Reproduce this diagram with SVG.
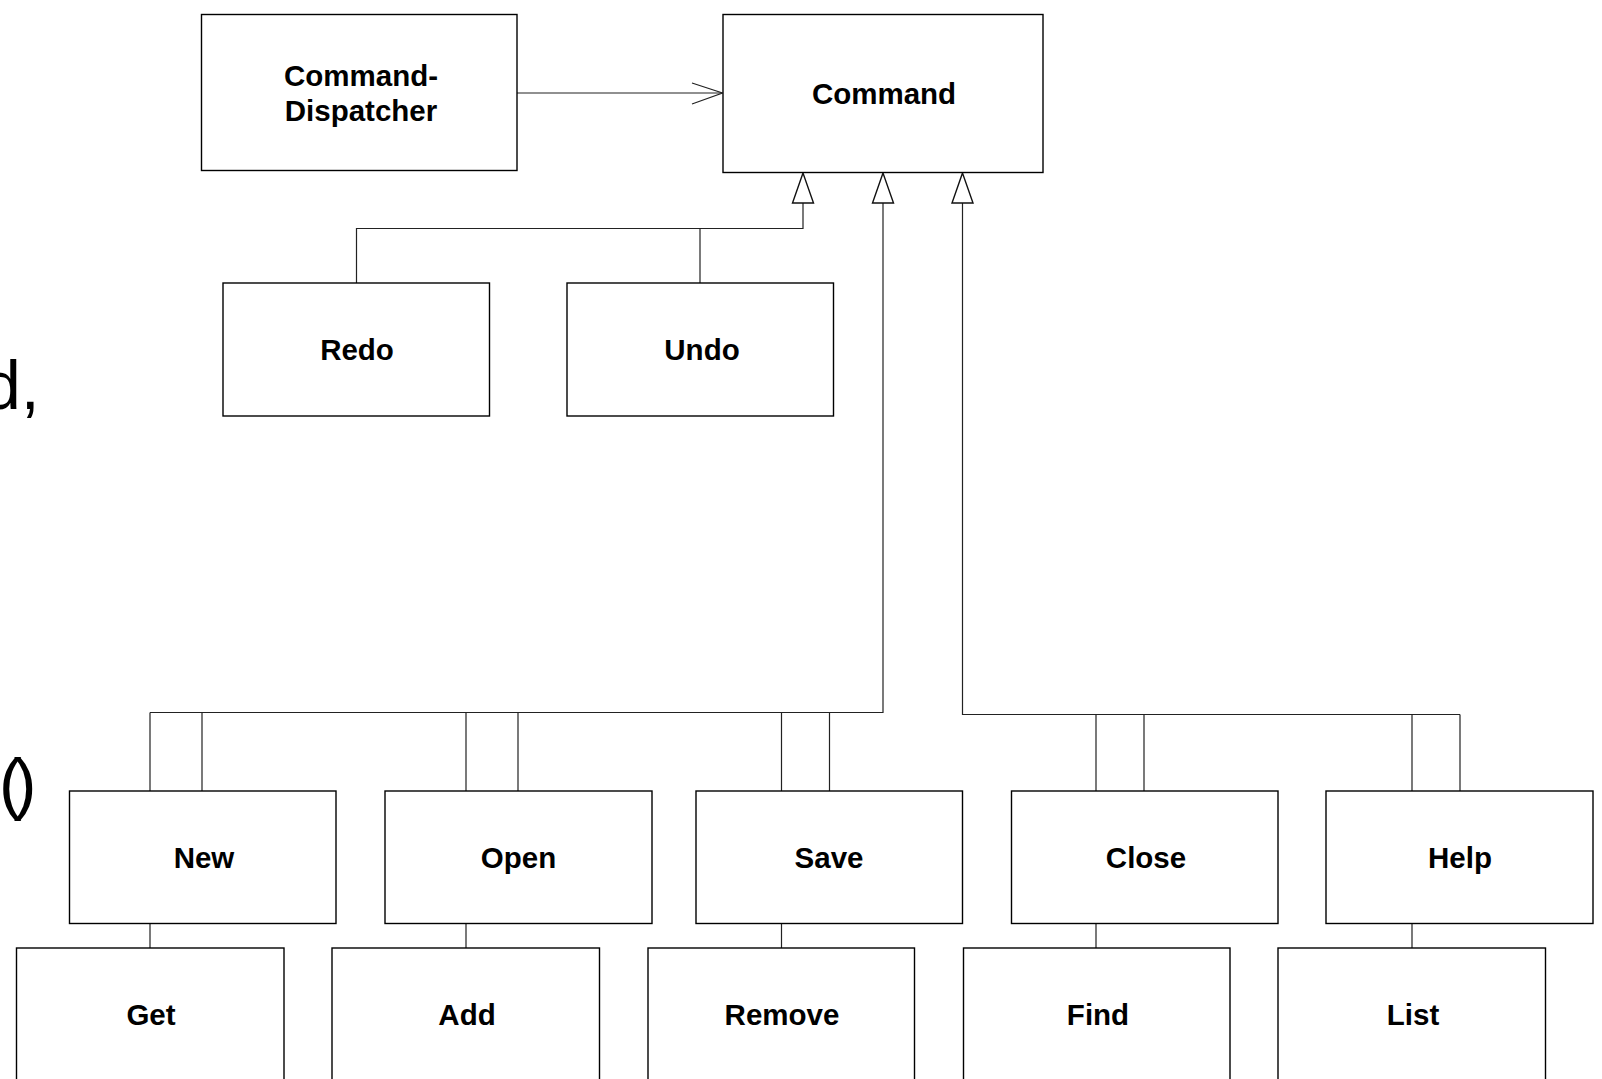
<svg xmlns="http://www.w3.org/2000/svg" width="1602" height="1079" viewBox="0 0 1602 1079">
<style>
.box{fill:#fff;stroke:#000;stroke-width:1.4}
.lbl{font-family:"Liberation Sans",Arial,sans-serif;font-weight:bold;font-size:29.5px;fill:#000;text-anchor:middle}
.bg{font-family:"Liberation Sans",Arial,sans-serif;font-size:68px;fill:#000}
.con{fill:none;stroke:#222;stroke-width:1.2}
.tri{fill:#fff;stroke:#111;stroke-width:1.4}
</style>
<rect width="1602" height="1079" fill="#fff"/>
<text class="bg" x="-17" y="409">d,</text>
<text class="bg" x="-1" y="807" letter-spacing="-8">()</text>
<g id="connectors">
<line class="con" x1="517" y1="93" x2="722" y2="93"/>
<polyline class="con" points="692,83 722.5,93 692,104"/>
<polyline class="con" points="356.5,283 356.5,228.5 803,228.5 803,203"/>
<line class="con" x1="700" y1="228.5" x2="700" y2="283"/>
<polygon class="tri" points="803,173 792.5,203 813.5,203"/>
<polyline class="con" points="883,203 883,712.5 150,712.5"/>
<polygon class="tri" points="883,173 872.5,203 893.5,203"/>
<polyline class="con" points="962.5,203 962.5,714.5 1460,714.5"/>
<polygon class="tri" points="962.5,173 952,203 973,203"/>
<path class="con" d="M150,712.5V791M202,712.5V791M466,712.5V791M518,712.5V791M781.5,712.5V791M829.5,712.5V791M1096,714.5V791M1144,714.5V791M1412,714.5V791M1460,714.5V791"/>
<path class="con" d="M150,923.5V948M466,923.5V948M781.5,923.5V948M1096,923.5V948M1412,923.5V948"/>
</g>
<g id="dispatcher"><rect class="box" x="201.5" y="14.5" width="315.5" height="156"/><text class="lbl" x="361" y="85.5">Command-</text><text class="lbl" x="361" y="121">Dispatcher</text></g>
<g id="command"><rect class="box" x="723" y="14.5" width="320" height="158"/><text class="lbl" x="884" y="103.5">Command</text></g>
<g id="redo"><rect class="box" x="223" y="283" width="266.5" height="133"/><text class="lbl" x="357" y="360">Redo</text></g>
<g id="undo"><rect class="box" x="567" y="283" width="266.5" height="133"/><text class="lbl" x="702" y="360">Undo</text></g>
<g id="new"><rect class="box" x="69.5" y="791" width="266.5" height="132.5"/><text class="lbl" x="204" y="868">New</text></g>
<g id="open"><rect class="box" x="385" y="791" width="267" height="132.5"/><text class="lbl" x="518.5" y="868">Open</text></g>
<g id="save"><rect class="box" x="696" y="791" width="266.5" height="132.5"/><text class="lbl" x="829" y="868">Save</text></g>
<g id="close"><rect class="box" x="1011.5" y="791" width="266.5" height="132.5"/><text class="lbl" x="1146" y="868">Close</text></g>
<g id="help"><rect class="box" x="1326" y="791" width="267" height="132.5"/><text class="lbl" x="1460" y="868">Help</text></g>
<g id="get"><rect class="box" x="16.5" y="948" width="267.5" height="140"/><text class="lbl" x="151" y="1024.5">Get</text></g>
<g id="add"><rect class="box" x="332" y="948" width="267.5" height="140"/><text class="lbl" x="467" y="1024.5">Add</text></g>
<g id="remove"><rect class="box" x="648" y="948" width="266.5" height="140"/><text class="lbl" x="782" y="1024.5">Remove</text></g>
<g id="find"><rect class="box" x="963.5" y="948" width="266.5" height="140"/><text class="lbl" x="1098" y="1024.5">Find</text></g>
<g id="list"><rect class="box" x="1278" y="948" width="267.5" height="140"/><text class="lbl" x="1413" y="1024.5">List</text></g>
</svg>
